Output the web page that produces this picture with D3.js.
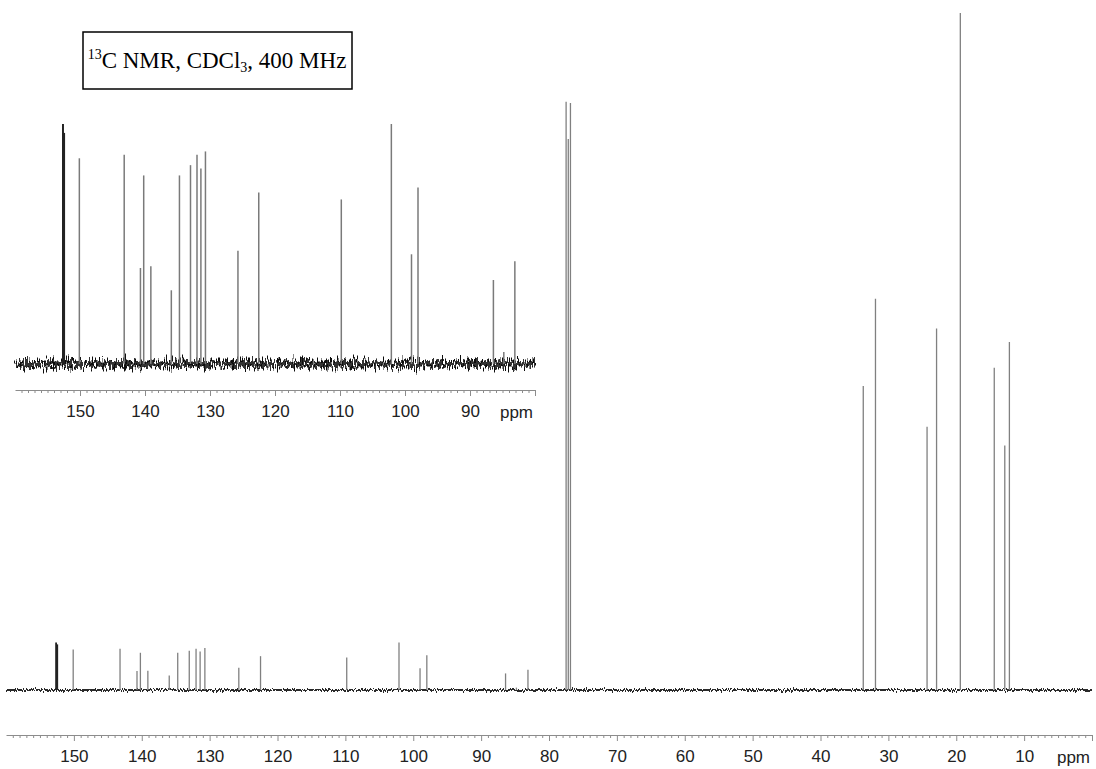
<!DOCTYPE html>
<html>
<head>
<meta charset="utf-8">
<script src="https://cdn.jsdelivr.net/npm/d3@7"></script>
<style>
body { margin: 0; background: #fff; }
svg text { font-family: "Liberation Sans", Arial, sans-serif; }
</style>
</head>
<body>
<svg width="1096" height="769"></svg>
<script>
// peak positions (ppm) and heights (tallest = 100)
var peakPpm = [152.62, 152.45, 150.10, 143.20, 140.70, 140.20, 139.10, 135.95, 134.70, 133.00,
	132.00, 131.40, 130.70, 125.70, 122.50, 109.80, 102.10, 99.00, 98.00, 86.40, 84.80, 83.10,
	77.48, 77.16, 76.84, 33.70, 31.90, 24.30, 22.90, 19.40, 14.40, 12.85, 12.17];
var peakInt = [7.0, 6.74, 6.0, 6.1, 2.8, 5.5, 2.85, 2.15, 5.5, 5.8,
	6.1, 5.7, 6.2, 3.3, 5.0, 4.8, 7.0, 3.2, 5.15, 2.45, 0.35, 3.0,
	86.9, 81.4, 86.7, 44.9, 57.8, 38.9, 53.4, 100, 47.6, 36.1, 51.4];
var mainTicks = [150, 140, 130, 120, 110, 100, 90, 80, 70, 60, 50, 40, 30, 20, 10];
var insetTicks = [150, 140, 130, 120, 110, 100, 90];
var mainRange = [160, 0];
var insetRange = [160, 80];

var svg = d3.select("svg");
var defs = svg.append("defs");

var peaks = peakPpm.map(function(p, i){ return {ppm: p, h: peakInt[i]}; });

// jagged baseline look, done with an svg filter (no data involved)
function noise(id, x, y, w, h, freq, scale, seed){
	var f = defs.append("filter").attr("id", id)
		.attr("filterUnits", "userSpaceOnUse")
		.attr("x", x).attr("y", y).attr("width", w).attr("height", h);
	f.append("feTurbulence").attr("type", "fractalNoise")
		.attr("baseFrequency", freq).attr("numOctaves", 2).attr("seed", seed).attr("result", "t");
	f.append("feDisplacementMap").attr("in", "SourceGraphic").attr("in2", "t")
		.attr("scale", scale).attr("xChannelSelector", "G").attr("yChannelSelector", "R");
}

function drawAxis(x, y0, ticks, fmtZero){
	var g = svg.append("g").attr("transform", "translate(0," + y0 + ")");
	var lo = d3.min(x.domain()), hi = d3.max(x.domain());
	var minor = d3.range(Math.ceil(lo), hi + 1).filter(function(d){ return d % 10 !== 0; });
	var gm = g.append("g").call(d3.axisBottom(x).tickValues(minor).tickSize(3).tickFormat(""));
	gm.select(".domain").remove();
	var major = ticks.concat([fmtZero]);
	var ga = g.append("g").call(d3.axisBottom(x).tickValues(major).tickSize(6).tickSizeOuter(0)
		.tickPadding(9).tickFormat(function(d){ return d === fmtZero ? "" : d; }));
	ga.selectAll("text").attr("font-size", 17).attr("fill", "#222")
		.style("font-family", "'Liberation Sans', Arial, sans-serif");
	g.selectAll("line").attr("stroke", "#8c8c8c");
	ga.select(".domain").attr("stroke", "#8c8c8c");
	g.append("text").attr("x", x.range()[1] - 2).attr("y", 28)
		.attr("text-anchor", "end").attr("font-size", 17).attr("fill", "#222").text("ppm");
}

// main spectrum
var x = d3.scaleLinear().domain(mainRange).range([6, 1092]);
var y = d3.scaleLinear().domain([0, 100]).range([690, 13]);

noise("nMain", 0, 670, 1096, 40, "0.9 0.08", 6, 4);
svg.append("line").attr("x1", x(mainRange[0])).attr("x2", x(mainRange[1]))
	.attr("y1", y(0)).attr("y2", y(0))
	.attr("stroke", "#2a2a2a").attr("stroke-width", 2).attr("filter", "url(#nMain)");

svg.append("g").selectAll("line").data(peaks).enter().append("line")
	.attr("x1", function(d){ return x(d.ppm); }).attr("x2", function(d){ return x(d.ppm); })
	.attr("y1", y(0)).attr("y2", function(d){ return y(d.h); })
	.attr("stroke", function(d){ return d.ppm > 152 ? "#222" : "#808080"; })
	.attr("stroke-width", function(d){ return d.ppm > 152 ? 1.8 : 1.3; });

drawAxis(x, 735, mainTicks, 0);

// inset (aromatic region, expanded)
var xi = d3.scaleLinear().domain(insetRange).range([15, 535]);
var yi = d3.scaleLinear().domain([0, 7]).range([364, 124]);

noise("nInset", 0, 330, 560, 70, "0.9 0.06", 24, 3);
noise("nInset2", 0, 330, 560, 70, "1.1 0.08", 18, 11);
svg.append("line").attr("x1", xi(insetRange[0])).attr("x2", xi(insetRange[1]))
	.attr("y1", yi(0)).attr("y2", yi(0))
	.attr("stroke", "#111").attr("stroke-width", 5).attr("filter", "url(#nInset)");
svg.append("line").attr("x1", xi(insetRange[0])).attr("x2", xi(insetRange[1]))
	.attr("y1", yi(0)).attr("y2", yi(0))
	.attr("stroke", "#333").attr("stroke-width", 4).attr("filter", "url(#nInset2)");

svg.append("g").selectAll("line")
	.data(peaks.filter(function(d){ return d.ppm < insetRange[0] && d.ppm > insetRange[1]; }))
	.enter().append("line")
	.attr("x1", function(d){ return xi(d.ppm); }).attr("x2", function(d){ return xi(d.ppm); })
	.attr("y1", yi(0)).attr("y2", function(d){ return yi(d.h); })
	.attr("stroke", function(d){ return d.ppm > 152 ? "#222" : "#7a7a7a"; })
	.attr("stroke-width", function(d){ return d.ppm > 152 ? 2 : 1.5; });

drawAxis(xi, 390, insetTicks, 80);

// title box
svg.append("rect").attr("x", 83).attr("y", 32).attr("width", 269).attr("height", 57)
	.attr("fill", "#fff").attr("stroke", "#000").attr("stroke-width", 1.5);
var t = svg.append("text").attr("x", 217).attr("y", 68).attr("text-anchor", "middle")
	.style("font-family", "'Liberation Serif', 'Times New Roman', serif").attr("font-size", 23);
t.append("tspan").attr("font-size", 14).attr("dy", -9).text("13");
t.append("tspan").attr("dy", 9).text("C NMR, CDCl");
t.append("tspan").attr("font-size", 14).attr("dy", 4).text("3");
t.append("tspan").attr("dy", -4).text(", 400 MHz");
</script>
</body>
</html>
